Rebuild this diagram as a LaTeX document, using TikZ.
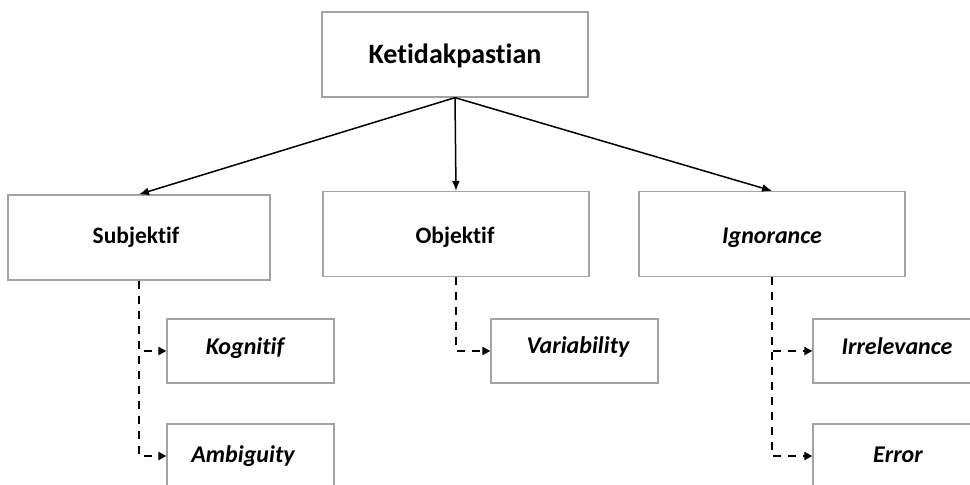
\documentclass[tikz,border=0pt]{standalone}
\usepackage{fontspec}
\setmainfont{Carlito}[Ligatures={NoCommon,NoContextual}]
\usetikzlibrary{arrows.meta}
\definecolor{boxgray}{HTML}{A3A3A3}
\begin{document}
\begin{tikzpicture}[x=1pt,y=-1pt,
  box/.style={draw=boxgray, line width=1.3pt, inner sep=0pt, fill=white},
  bigbox/.style={box, minimum width=266pt, minimum height=85pt},
  smallbox/.style={box, minimum width=167pt, minimum height=64pt},
  lbl/.style={inner sep=0pt, anchor=base, font=\fontsize{23.5}{28}\selectfont\bfseries},
  ilbl/.style={lbl, font=\fontsize{24}{28}\selectfont\bfseries\itshape},
  mainarrow/.style={line width=1.5pt, -{Latex[length=10pt,width=8pt]}},
  subarrow/.style={line width=2.6pt, dash pattern=on 8pt off 7pt,
    -{Triangle[length=8pt,width=8pt]}, shorten >=0pt}]

\useasboundingbox (0,0) rectangle (970,485);
\clip (0,0) rectangle (970,485);

% boxes
\node[bigbox] (top) at (455,54.5) {};
\node[bigbox, minimum width=262pt] (sub) at (139,237.5) {};
\node[bigbox] (obj) at (456,234) {};
\node[bigbox] (ign) at (772,234) {};
\node[smallbox] (kog) at (250.5,351) {};
\node[smallbox] (amb) at (250.5,456) {};
\node[smallbox] (var) at (574.5,351) {};
\node[smallbox] (irr) at (896.5,351) {};
\node[smallbox] (err) at (896.5,456) {};

% labels
\node[lbl, font=\fontsize{28}{33}\selectfont\bfseries] (ttop) at (455,63) {Ketidakpastian};
\node[lbl] (tsub) at (136,243) {Subjektif};
\node[lbl] (tobj) at (455,243) {Objektif};
\node[ilbl] (tign) at (772,243) {Ignorance};
\node[ilbl] (tkog) at (245,354) {Kognitif};
\node[ilbl] (tamb) at (243,462) {Ambiguity};
\node[ilbl] (tvar) at (578,353) {Variability};
\node[ilbl] (tirr) at (897,354) {Irrelevance};
\node[ilbl] (terr) at (898,462) {Error};

% main branches
\draw[mainarrow] (top.south) -- (sub.north);
\draw[mainarrow] (top.south) -- (obj.north);
\draw[mainarrow] (top.south) -- (ign.north);

% dashed sub-branches
\draw[subarrow] (sub.south) |- (kog.west);
\draw[subarrow] (sub.south) |- (amb.west);
\draw[subarrow] (obj.south) |- (var.west);
\draw[subarrow] (ign.south) |- (irr.west);
\draw[subarrow] (ign.south) |- (err.west);
\end{tikzpicture}
\end{document}
